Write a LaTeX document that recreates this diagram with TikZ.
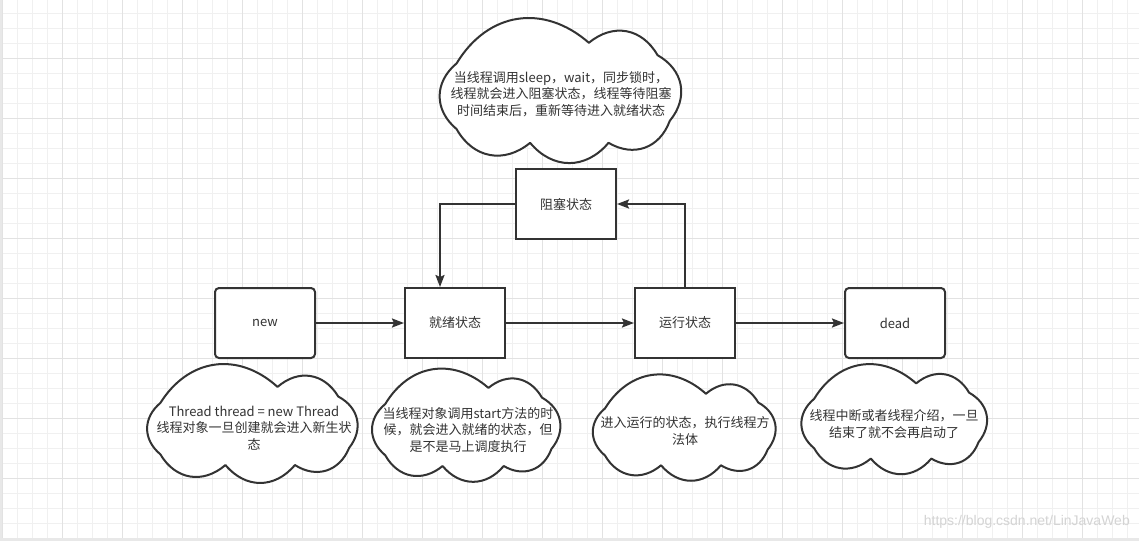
\documentclass[tikz,border=0pt]{standalone}
\usepackage{fontspec}
\setmainfont{Noto Sans CJK SC}
\newfontfamily\wmfont{Liberation Sans}
\usetikzlibrary{arrows.meta,calc}
\definecolor{ink}{HTML}{333333}
\definecolor{gridl}{HTML}{F0F0F0}
\definecolor{gridb}{HTML}{E2E2E2}
\definecolor{edgegray}{HTML}{E8E8E8}
\definecolor{wm}{HTML}{D4D4D4}
\newcommand\mycloud[4]{%
\begin{scope}[shift={(#1,#2)},xscale=#3,yscale=#4]
\coordinate (k1) at (0.08,0.28);
\coordinate (k2) at (0.62,0.13);
\coordinate (k3) at (0.90,0.22);
\coordinate (k4) at (0.95,0.70);
\coordinate (k5) at (0.70,0.86);
\coordinate (k6) at (0.38,0.86);
\coordinate (k7) at (0.08,0.76);
\end{scope}
\draw[cloudline] (k1)
 .. controls ($(k1)!0.45!50:(k2)$) and ($(k2)!0.45!-50:(k1)$) .. (k2)
 .. controls ($(k2)!0.45!50:(k3)$) and ($(k3)!0.45!-50:(k2)$) .. (k3)
 .. controls ($(k3)!0.45!50:(k4)$) and ($(k4)!0.45!-50:(k3)$) .. (k4)
 .. controls ($(k4)!0.45!50:(k5)$) and ($(k5)!0.45!-50:(k4)$) .. (k5)
 .. controls ($(k5)!0.45!50:(k6)$) and ($(k6)!0.45!-50:(k5)$) .. (k6)
 .. controls ($(k6)!0.45!50:(k7)$) and ($(k7)!0.45!-50:(k6)$) .. (k7)
 .. controls ($(k7)!0.45!50:(k1)$) and ($(k1)!0.45!-50:(k7)$) .. (k1) -- cycle;}
\begin{document}
\begin{tikzpicture}[x=1pt,y=-1pt,
  statebox/.style={draw=ink,line width=2pt,fill=white,minimum width=100pt,minimum height=70pt,inner sep=0pt,text=ink,font=\fontsize{13}{16}\selectfont},
  roundbox/.style={statebox,rounded corners=4pt},
  cloudline/.style={draw=ink,line width=2pt,fill=white,line join=round},
  note/.style={align=center,text=ink,inner sep=0pt,font=\fontsize{13}{16.5}\selectfont},
  arr/.style={draw=ink,line width=2pt,-{Stealth[length=12pt,width=9pt,inset=2pt]}}]
\useasboundingbox (0,0) rectangle (1139,541);
\fill[white] (0,0) rectangle (1139,541);
% grid
\foreach \i in {0,...,76} \draw[gridl,line width=1pt] ({2+15*\i},0) -- ({2+15*\i},541);
\foreach \j in {0,...,37} \draw[gridl,line width=1pt] (0,{-1.7+15*\j}) -- (1139,{-1.7+15*\j});
\foreach \i in {0,...,19} \draw[gridb,line width=1pt] ({2+60*\i},0) -- ({2+60*\i},541);
\foreach \j in {0,...,9} \draw[gridb,line width=1pt] (0,{-1.7+60*\j}) -- (1139,{-1.7+60*\j});
\fill[edgegray] (0,0) rectangle (2,541);
\fill[edgegray] (0,538) rectangle (1139,541);
% clouds
\mycloud{437}{25}{245}{137}
\mycloud{143}{373}{217}{107}
\mycloud{370}{374}{191}{107}
\mycloud{590}{381}{187}{98}
\mycloud{799}{370}{189}{103}
% boxes
\node[roundbox] (new) at (265,323) {new};
\node[statebox] (ready) at (455,323) {就绪状态};
\node[statebox] (run) at (685,323) {运行状态};
\node[roundbox] (dead) at (895,323) {dead};
\node[statebox] (block) at (566,204) {阻塞状态};
% notes
\node[note] (nblock) at (561,94) {当线程调用sleep，wait，同步锁时，\\线程就会进入阻塞状态，线程等待阻塞\\时间结束后，重新等待进入就绪状态};
\node[note] (nnew) at (254,428) {Thread thread = new Thread\\线程对象一旦创建就会进入新生状\\态};
\node[note] (nready) at (468,430) {当线程对象调用start方法的时\\候，就会进入就绪的状态，但\\是不是马上调度执行};
\node[note] (nrun) at (685,431) {进入运行的状态，执行线程方\\法体};
\node[note] (ndead) at (894,424) {线程中断或者线程介绍，一旦\\结束了就不会再启动了};
% arrows
\draw[arr] (new.east) -- (ready.west);
\draw[arr] (ready.east) -- (run.west);
\draw[arr] (run.east) -- (dead.west);
\draw[arr] (run.north) |- (block.east);
\draw[arr] (block.west) -| ([xshift=-15pt]ready.north);
% watermark
\node[text=wm,font=\wmfont\fontsize{14}{16}\selectfont,anchor=east,inner sep=0pt] (wmark) at (1130,522) {https://blog.csdn.net/LinJavaWeb};
\end{tikzpicture}
\end{document}
